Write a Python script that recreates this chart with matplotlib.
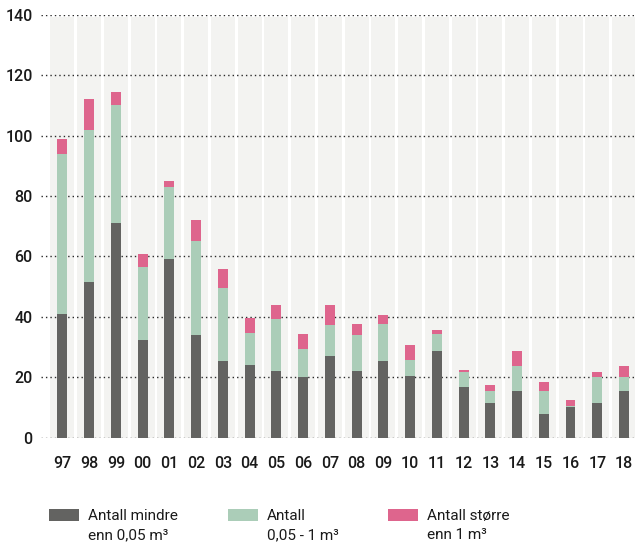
import matplotlib
matplotlib.use("Agg")
import matplotlib.pyplot as plt
from matplotlib.patches import Rectangle
import numpy as np

plt.rcParams['font.family'] = ['Roboto', 'DejaVu Sans']

years = ["97", "98", "99", "00", "01", "02", "03", "04", "05", "06", "07",
         "08", "09", "10", "11", "12", "13", "14", "15", "16", "17", "18"]
small = [41, 51.5, 71, 32.5, 59, 34, 25.5, 24, 22, 20, 27,
         22, 25.5, 20.5, 28.7, 16.7, 11.6, 15.5, 8, 10, 11.6, 15.5]
medium = [53, 50.5, 39, 24, 24, 31, 24, 10.5, 17.4, 9.5, 10.2,
          12, 12, 5.1, 5.6, 5.1, 3.9, 8.2, 7.5, 0.5, 8.4, 4.5]
large = [5, 10, 4.5, 4.3, 2, 7.1, 6.3, 5.1, 4.4, 4.8, 6.8,
         3.7, 3.1, 5, 1.4, 0.5, 1.8, 4.9, 3, 1.9, 1.8, 3.7]
series_labels = ["Antall mindre\nenn 0,05 m³", "Antall\n0,05 - 1 m³", "Antall større\nenn 1 m³"]
colors = ["#636361", "#abcdb8", "#de658d"]
yticks = [0, 20, 40, 60, 80, 100, 120, 140]

W, H = 635, 543
fig = plt.figure(figsize=(W / 100, H / 100), dpi=100)
ax = fig.add_axes([41 / W, (H - 437.7) / H, (W - 41) / W, 423 / H])

n = len(years)
x = np.arange(n)
ax.set_xlim(-0.80, 21.41)
ax.set_ylim(0, 140)

# light background column behind each year
for xi in x:
    ax.add_patch(Rectangle((xi - 0.45, 0), 0.9, 139.4, facecolor="#f3f3f1",
                           edgecolor="none", zorder=0))

# dotted horizontal gridlines
for yv in yticks:
    ax.axhline(yv, color="#2a2a2a", linestyle=(0, (1, 2.2)), linewidth=1.0, zorder=1)

bw = 0.37
bottom = np.zeros(n)
for vals, col, lab in zip([small, medium, large], colors, series_labels):
    vals = np.array(vals, dtype=float)
    ax.bar(x, vals, bw, bottom=bottom, color=col, edgecolor="none",
           zorder=2, label=lab)
    bottom += vals

for s in ax.spines.values():
    s.set_visible(False)
ax.set_yticks(yticks)
ax.set_yticklabels([str(v) for v in yticks])
ax.set_xticks(x)
ax.set_xticklabels(years)
ax.tick_params(axis="both", length=0, labelsize=11.5, colors="#1a1a1a")
ax.tick_params(axis="y", pad=6)
ax.tick_params(axis="x", pad=13)
for t in ax.get_xticklabels() + ax.get_yticklabels():
    t.set_fontweight("medium")

# legend drawn as patches with two-line labels
legend_x = [49, 228, 388]
for lx, col, lab in zip(legend_x, colors, series_labels):
    fig.patches.append(Rectangle((lx / W, (H - 521) / H), 30 / W, 12 / H,
                                 facecolor=col, edgecolor="none",
                                 transform=fig.transFigure, figure=fig))
    first, second = lab.split("\n")
    fig.text((lx + 39) / W, (H - 516) / H, first, fontsize=11,
             color="#1a1a1a", va="center", ha="left")
    fig.text((lx + 39) / W, (H - 535) / H, second, fontsize=11,
             color="#1a1a1a", va="center", ha="left")

fig.savefig("out.png", dpi=100)
